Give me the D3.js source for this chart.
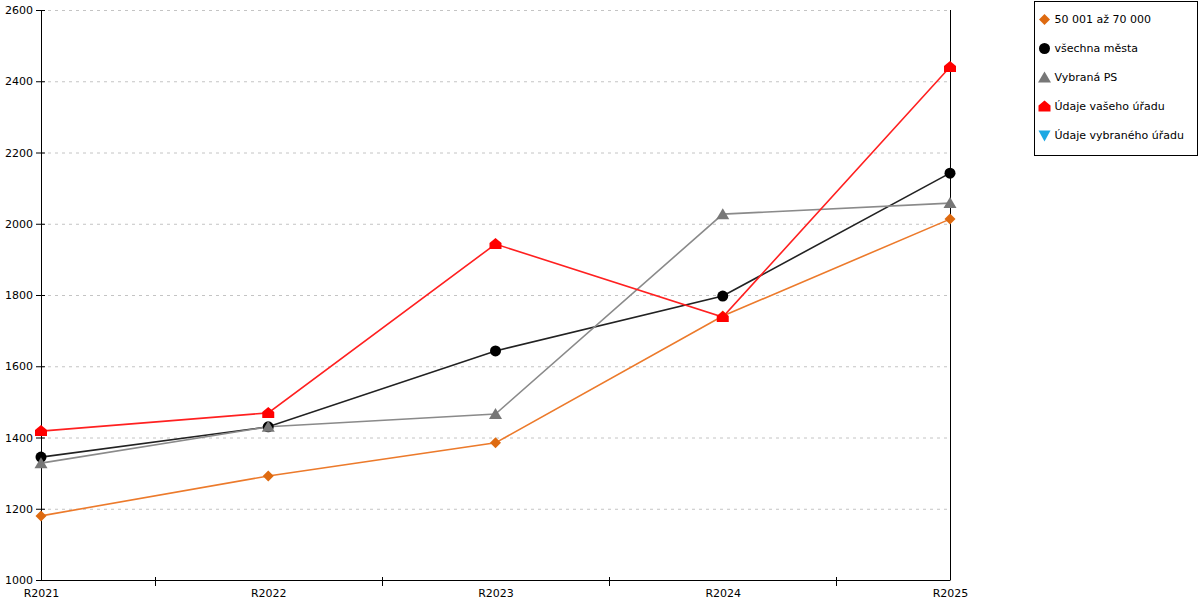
<!DOCTYPE html>
<html>
<head>
<meta charset="utf-8">
<script src="https://cdn.jsdelivr.net/npm/d3@7"></script>
<style>
  body { margin: 0; background: #fff; }
  text { font-family: "DejaVu Sans", Verdana, sans-serif; }
</style>
</head>
<body>
<div id="chart"></div>
<script>
// data
var years = ["R2021", "R2022", "R2023", "R2024", "R2025"];
var yTicks = [1000, 1200, 1400, 1600, 1800, 2000, 2200, 2400, 2600];
var seriesNames = ["50 001 až 70 000", "všechna města", "Vybraná PS", "Údaje vašeho úřadu", "Údaje vybraného úřadu"];
var orangeVals = [1180, 1292, 1385, 1741, 2013];
var blackVals = [1345, 1430, 1643, 1797, 2142];
var grayVals = [1328, 1430, 1466, 2027, 2058];
var redVals = [1418, 1469, 1943, 1738, 2440];
var blueVals = [];

// plot box (note: "top" is taken by window.top, so use other names)
var W = 1200, H = 600;
var plotL = 41, plotR = 950, plotT = 10, plotB = 580;

var svg = d3.select("#chart").append("svg")
    .attr("width", W)
    .attr("height", H);

var x = d3.scalePoint().domain(years).range([plotL, plotR]);
var y = d3.scaleLinear().domain([1000, 2600]).range([plotB, plotT]);

// grid lines
svg.append("g")
  .selectAll("line")
  .data(yTicks.filter(function(d) { return d > 1000; }))
  .enter().append("line")
    .attr("x1", plotL)
    .attr("x2", plotR)
    .attr("y1", function(d) { return y(d) + 0.5; })
    .attr("y2", function(d) { return y(d) + 0.5; })
    .attr("stroke", "#c4c4c4")
    .attr("stroke-dasharray", "3,4");

// y axis (d3 adds the half-pixel offset itself)
var yAxis = svg.append("g")
    .attr("transform", "translate(" + plotL + ",0)")
    .call(d3.axisLeft(y).tickValues(yTicks).tickFormat(d3.format("d")).tickSize(0).tickPadding(8));
yAxis.select(".domain").attr("stroke", "#000");
yAxis.selectAll(".tick line").attr("x1", -5).attr("x2", 4).attr("stroke", "#000");
yAxis.selectAll("text").style("font-size", "11px").attr("fill", "#000");

// right vertical line
svg.append("line")
  .attr("x1", plotR + 0.5).attr("x2", plotR + 0.5)
  .attr("y1", plotT).attr("y2", plotB)
  .attr("stroke", "#000");

// x axis
var xAxis = svg.append("g")
    .attr("transform", "translate(0," + plotB + ")")
    .call(d3.axisBottom(x).tickSize(0).tickPadding(9));
xAxis.select(".domain").attr("stroke", "#000");
xAxis.selectAll("text").style("font-size", "11px").attr("fill", "#000");

// ticks between categories
var mids = years.slice(1).map(function(d, i) { return (x(years[i]) + x(d)) / 2; });
svg.append("g")
  .selectAll("line")
  .data(mids)
  .enter().append("line")
    .attr("x1", function(d) { return Math.round(d) + 0.5; })
    .attr("x2", function(d) { return Math.round(d) + 0.5; })
    .attr("y1", plotB - 3)
    .attr("y2", plotB + 6)
    .attr("stroke", "#000");

// marker shapes
var shapes = {
  diamond: "M0,-5.5L5.5,0L0,5.5L-5.5,0Z",
  circle: d3.symbol().type(d3.symbolCircle).size(95)(),
  triangle: "M0,-6L6.5,5L-6.5,5Z",
  house: "M0,-6L6,-1L6,5L-6,5L-6,-1Z",
  down: "M-6,-5L6,-5L0,6Z"
};

var series = [
  { name: seriesNames[0], vals: orangeVals, line: "#ec7a2b", fill: "#de6a10", shape: "diamond" },
  { name: seriesNames[1], vals: blackVals, line: "#222", fill: "#000", shape: "circle" },
  { name: seriesNames[2], vals: grayVals, line: "#8a8a8a", fill: "#777", shape: "triangle" },
  { name: seriesNames[3], vals: redVals, line: "#ff2020", fill: "#ff0000", shape: "house" },
  { name: seriesNames[4], vals: blueVals, line: "#1ca8e3", fill: "#1ca8e3", shape: "down" }
];

var line = d3.line()
  .x(function(d, i) { return x(years[i]); })
  .y(function(d) { return y(d); });

series.forEach(function(s) {
  if (!s.vals.length) return;
  svg.append("path")
    .datum(s.vals)
    .attr("d", line)
    .attr("fill", "none")
    .attr("stroke", s.line)
    .attr("stroke-width", 1.6);
});

series.forEach(function(s) {
  svg.selectAll(null)
    .data(s.vals)
    .enter().append("path")
      .attr("d", shapes[s.shape])
      .attr("transform", function(d, i) { return "translate(" + x(years[i]) + "," + y(d) + ")"; })
      .attr("fill", s.fill);
});

// legend
var lg = svg.append("g").attr("transform", "translate(1034.5,1.5)");
lg.append("rect")
  .attr("width", 163)
  .attr("height", 154)
  .attr("fill", "#fff")
  .attr("stroke", "#000");

var items = lg.selectAll("g.item")
  .data(series)
  .enter().append("g")
    .attr("transform", function(d, i) { return "translate(10," + (18 + i * 29) + ")"; });
items.append("path")
  .attr("d", function(d) { return shapes[d.shape]; })
  .attr("fill", function(d) { return d.fill; });
items.append("text")
  .attr("x", 10)
  .attr("dy", "0.35em")
  .style("font-size", "11px")
  .text(function(d) { return d.name; });
</script>
</body>
</html>
